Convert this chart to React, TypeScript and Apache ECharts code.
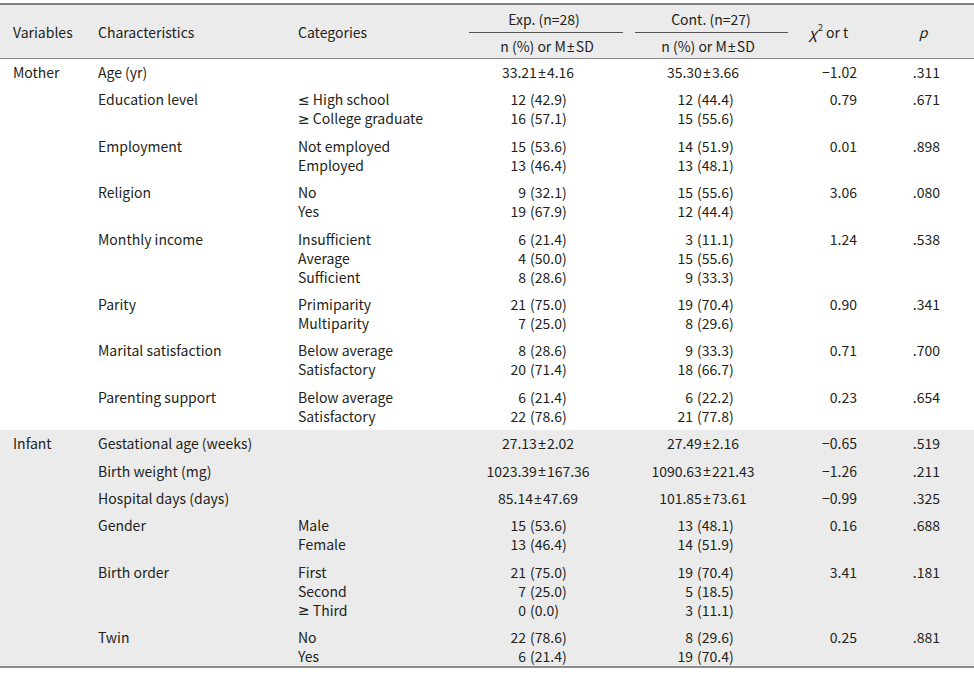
import React, { useEffect, useRef } from "react";
import * as echarts from "echarts";

const variableGroups = ["Mother", "Infant"];
const groupSizes = [8, 6];
const characteristics = [
  "Age (yr)",
  "Education level",
  "Employment",
  "Religion",
  "Monthly income",
  "Parity",
  "Marital satisfaction",
  "Parenting support",
  "Gestational age (weeks)",
  "Birth weight (mg)",
  "Hospital days (days)",
  "Gender",
  "Birth order",
  "Twin",
];
const categories: string[][] = [
  [],
  ["≤ High school", "≥ College graduate"],
  ["Not employed", "Employed"],
  ["No", "Yes"],
  ["Insufficient", "Average", "Sufficient"],
  ["Primiparity", "Multiparity"],
  ["Below average", "Satisfactory"],
  ["Below average", "Satisfactory"],
  [],
  [],
  [],
  ["Male", "Female"],
  ["First", "Second", "≥ Third"],
  ["No", "Yes"],
];
const expValues: string[][] = [
  ["33.21±4.16"],
  ["12 (42.9)", "16 (57.1)"],
  ["15 (53.6)", "13 (46.4)"],
  ["9 (32.1)", "19 (67.9)"],
  ["6 (21.4)", "4 (50.0)", "8 (28.6)"],
  ["21 (75.0)", "7 (25.0)"],
  ["8 (28.6)", "20 (71.4)"],
  ["6 (21.4)", "22 (78.6)"],
  ["27.13±2.02"],
  ["1023.39±167.36"],
  ["85.14±47.69"],
  ["15 (53.6)", "13 (46.4)"],
  ["21 (75.0)", "7 (25.0)", "0 (0.0)"],
  ["22 (78.6)", "6 (21.4)"],
];
const contValues: string[][] = [
  ["35.30±3.66"],
  ["12 (44.4)", "15 (55.6)"],
  ["14 (51.9)", "13 (48.1)"],
  ["15 (55.6)", "12 (44.4)"],
  ["3 (11.1)", "15 (55.6)", "9 (33.3)"],
  ["19 (70.4)", "8 (29.6)"],
  ["9 (33.3)", "18 (66.7)"],
  ["6 (22.2)", "21 (77.8)"],
  ["27.49±2.16"],
  ["1090.63±221.43"],
  ["101.85±73.61"],
  ["13 (48.1)", "14 (51.9)"],
  ["19 (70.4)", "5 (18.5)", "3 (11.1)"],
  ["8 (29.6)", "19 (70.4)"],
];
const statValues = ["−1.02", "0.79", "0.01", "3.06", "1.24", "0.90", "0.71", "0.23", "−0.65", "−1.26", "−0.99", "0.16", "3.41", "0.25"];
const pValues = [".311", ".671", ".898", ".080", ".538", ".341", ".700", ".654", ".519", ".211", ".325", ".688", ".181", ".881"];
const headerCols = ["Variables", "Characteristics", "Categories"];
const groupHeaders = ["Exp. (n=28)", "Cont. (n=27)"];
const subHeader = "n (%) or M±SD";

const FONT = "'Noto Sans CJK KR', 'Noto Sans', sans-serif";
const SYM_FONT = "'Noto Sans', 'DejaVu Sans', sans-serif";
const TXT = "#231f20";
const GREY = "#ebebeb";

function txt(x: number, y: number, text: string, align = "left", extra: any = {}) {
  const hasSym = /[±≤≥]/.test(text);
  const base: any = {
    text: hasSym ? text.replace(/±/g, "{s|±}").replace(/([≤≥])/g, "{c|$1}") : text,
    fill: TXT,
    fontSize: 14,
    fontFamily: FONT,
    align,
    verticalAlign: "middle",
    ...extra,
  };
  if (hasSym) {
    base.rich = {
      s: { fontFamily: SYM_FONT, fontSize: 14, fill: TXT, padding: [0, 1, 0, 1] },
      c: { fontFamily: SYM_FONT, fontSize: 14, fill: TXT },
    };
  }
  return { type: "text", x, y, silent: true, style: base };
}

function valueCell(v: string, y: number, countRight: number, parenLeft: number, meanCenter: number) {
  const m = v.match(/^(\d+) (\(.*\))$/);
  if (m) {
    return [txt(countRight, y, m[1], "right"), txt(parenLeft, y, m[2], "left")];
  }
  return [txt(meanCenter, y, v, "center")];
}

function buildGraphics() {
  const els: any[] = [];
  const W = 974;
  const rowY: number[] = [];
  let y = 72;
  for (let i = 0; i < characteristics.length; i++) {
    rowY.push(y);
    const lines = Math.max(1, categories[i].length);
    y += (lines - 1) * 19 + 27.4;
  }
  const infantStart = groupSizes[0];
  els.push({ type: "rect", silent: true, shape: { x: 0, y: 4, width: W, height: 54.5 }, style: { fill: GREY } });
  els.push({ type: "rect", silent: true, shape: { x: 0, y: 430, width: W, height: 237 }, style: { fill: GREY } });
  els.push({ type: "line", silent: true, shape: { x1: 0, y1: 4, x2: W, y2: 4 }, style: { stroke: "#5a5a5a", lineWidth: 1.5 } });
  els.push({ type: "line", silent: true, shape: { x1: 0, y1: 58.5, x2: W, y2: 58.5 }, style: { stroke: "#8a8a8a", lineWidth: 1 } });
  els.push({ type: "line", silent: true, shape: { x1: 0, y1: 667, x2: W, y2: 667 }, style: { stroke: "#6a6a6a", lineWidth: 1.5 } });
  els.push({ type: "line", silent: true, shape: { x1: 469, y1: 32.5, x2: 623, y2: 32.5 }, style: { stroke: "#555", lineWidth: 1 } });
  els.push({ type: "line", silent: true, shape: { x1: 635, y1: 32.5, x2: 788, y2: 32.5 }, style: { stroke: "#555", lineWidth: 1 } });
  els.push(txt(13, 32, headerCols[0]));
  els.push(txt(98, 32, headerCols[1]));
  els.push(txt(298, 32, headerCols[2]));
  els.push(txt(544, 19, groupHeaders[0], "center"));
  els.push(txt(711, 19, groupHeaders[1], "center"));
  els.push(txt(547, 46, subHeader, "center"));
  els.push(txt(708, 46, subHeader, "center"));
  els.push(txt(809, 32, "χ", "left", { fontStyle: "italic", fontSize: 15 }));
  els.push(txt(818, 27, "2", "left", { fontSize: 9 }));
  els.push(txt(826, 32, "or t", "left"));
  els.push(txt(923, 32, "p", "center", { fontStyle: "italic" }));
  els.push(txt(13, rowY[0], variableGroups[0]));
  els.push(txt(13, rowY[infantStart], variableGroups[1]));
  for (let i = 0; i < characteristics.length; i++) {
    const y0 = rowY[i];
    els.push(txt(98, y0, characteristics[i]));
    categories[i].forEach((c, k) => els.push(txt(298, y0 + k * 19, c)));
    expValues[i].forEach((v, k) => els.push(...valueCell(v, y0 + k * 19, 526, 530, 538)));
    contValues[i].forEach((v, k) => els.push(...valueCell(v, y0 + k * 19, 693, 697, 703)));
    els.push(txt(857, y0, statValues[i], "right"));
    els.push(txt(940, y0, pValues[i], "right"));
  }
  return els;
}

export default function App() {
  const ref = useRef<HTMLDivElement>(null);
  useEffect(() => {
    if (!ref.current) return;
    const chart = echarts.init(ref.current, null, { renderer: "svg" });
    chart.setOption({
      animation: false,
      backgroundColor: "#ffffff",
      graphic: { elements: buildGraphics() },
    });
    return () => chart.dispose();
  }, []);
  return (
    <div
      ref={ref}
      style={{ position: "fixed", left: 0, top: 0, width: 974, height: 674, background: "#fff" }}
    />
  );
}
